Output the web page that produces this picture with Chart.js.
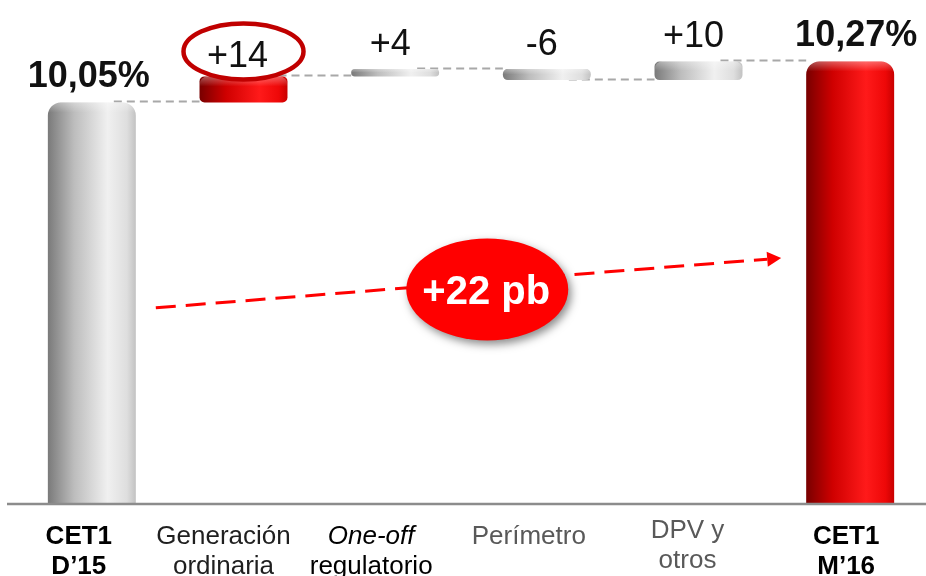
<!DOCTYPE html>
<html>
<head>
<meta charset="utf-8">
<script src="https://cdn.jsdelivr.net/npm/chart.js@4.4.1/dist/chart.umd.min.js"></script>
<style>
  html, body { margin: 0; padding: 0; background: #fff; }
  #wrap { width: 926px; height: 576px; }
</style>
</head>
<body>
<div id="wrap"><canvas id="c" width="926" height="576"></canvas></div>
<script>
// ---- data ----
const categories = [
  ['CET1', 'D’15'],
  ['Generación', 'ordinaria'],
  ['One-off', 'regulatorio'],
  ['Perímetro'],
  ['DPV y', 'otros'],
  ['CET1', 'M’16']
];
const openingCet1 = 10.05;            // % at start of period
const closingCet1 = 10.27;            // % at end of period
const movementsBp = [14, 4, -6, 10];  // basis points per driver
const axisMin = 7.9;                  // value axis range (%)
const axisMax = 10.6;

// ---- styling ----
const FONT = '"Liberation Sans", Arial, Helvetica, sans-serif';
const barTone = ['grey', 'red', 'grey', 'grey', 'grey', 'red'];
const highlightIndex = 1;
const labelStyle = [
  { weight: 'bold', color: '#000000', nudge: -13 },
  { weight: 'normal', color: '#1f1f1f', nudge: -20 },
  { weight: 'normal', color: '#000000', nudge: -24, italicFirst: true },
  { weight: 'normal', color: '#595959', nudge: -18 },
  { weight: 'normal', color: '#595959', nudge: -11, lift: 6 },
  { weight: 'bold', color: '#000000', nudge: -4 }
];

// ---- waterfall ranges built from the values above ----
const ranges = [[axisMin, openingCet1]];
let level = openingCet1;
movementsBp.forEach(bp => {
  const next = +(level + bp / 100).toFixed(4);
  ranges.push([level, next]);
  level = next;
});
ranges.push([axisMin, closingCet1]);
const totalBp = movementsBp.reduce((a, b) => a + b, 0);

const last = ranges.length - 1;
const fmtPct = v => v.toFixed(2).replace('.', ',') + '%';
const fmtBp = v => (v > 0 ? '+' : '') + v;
const valueLabels = ranges.map((r, i) =>
  (i === 0 || i === last) ? fmtPct(r[1]) : fmtBp(movementsBp[i - 1]));

const BAR_FRACTION = 0.58;

function cylinder(ctx, x, w, tone) {
  const g = ctx.createLinearGradient(x - w / 2, 0, x + w / 2, 0);
  if (tone === 'red') {
    g.addColorStop(0, '#780000');
    g.addColorStop(0.3, '#cf0000');
    g.addColorStop(0.68, '#ff1a1a');
    g.addColorStop(0.9, '#ee0808');
    g.addColorStop(1, '#c80000');
  } else {
    g.addColorStop(0, '#7a7a7a');
    g.addColorStop(0.3, '#bdbdbd');
    g.addColorStop(0.68, '#f0f0f0');
    g.addColorStop(0.9, '#dedede');
    g.addColorStop(1, '#c2c2c2');
  }
  return g;
}

function barGeom(chart, i) {
  const el = chart.getDatasetMeta(0).data[i];
  const top = Math.min(el.y, el.base);
  const bottom = Math.max(el.y, el.base);
  return { x: el.x, w: el.width, top, bottom, left: el.x - el.width / 2, right: el.x + el.width / 2 };
}

const decor = {
  id: 'decor',
  beforeDatasetsDraw(chart) {
    const ctx = chart.ctx;
    const y = chart.scales.y;
    ctx.save();
    ctx.strokeStyle = '#a8a8a8';
    ctx.lineWidth = 2;
    ctx.setLineDash([8, 5]);
    for (let i = 0; i < last; i++) {
      const a = barGeom(chart, i), b = barGeom(chart, i + 1);
      const py = Math.round(y.getPixelForValue(ranges[i][1])) - 0.5;
      ctx.beginPath();
      ctx.moveTo(a.x + 22, py);
      ctx.lineTo(b.left, py);
      ctx.stroke();
    }
    ctx.restore();
  },
  afterDatasetsDraw(chart) {
    const ctx = chart.ctx;
    const area = chart.chartArea;
    ctx.save();

    // soft highlight on the rounded tops of the cylinders
    for (let i = 0; i <= last; i++) {
      const g = barGeom(chart, i);
      const h = Math.min(10, (g.bottom - g.top) / 2);
      const grad = ctx.createLinearGradient(0, g.top, 0, g.top + h);
      grad.addColorStop(0, 'rgba(255,255,255,0.35)');
      grad.addColorStop(1, 'rgba(255,255,255,0)');
      ctx.fillStyle = grad;
      ctx.beginPath();
      ctx.roundRect(g.left, g.top, g.w, h, [Math.min(8, h), Math.min(8, h), 0, 0]);
      ctx.fill();
    }

    // value labels
    ctx.textAlign = 'center';
    ctx.textBaseline = 'alphabetic';
    for (let i = 0; i <= last; i++) {
      const g = barGeom(chart, i);
      const isTotal = (i === 0 || i === last);
      if (i === highlightIndex) {
        const cy = g.top - 25;
        ctx.beginPath();
        ctx.ellipse(g.x, cy, 60, 28, 0, 0, Math.PI * 2);
        ctx.fillStyle = '#ffffff';
        ctx.fill();
        ctx.lineWidth = 4.5;
        ctx.strokeStyle = '#c00000';
        ctx.stroke();
        ctx.fillStyle = '#111111';
        ctx.font = `36px ${FONT}`;
        ctx.fillText(valueLabels[i], g.x - 6, cy + 16);
        continue;
      }
      ctx.fillStyle = '#111111';
      ctx.font = `${isTotal ? 'bold ' : ''}36px ${FONT}`;
      ctx.fillText(valueLabels[i], g.x + (i === 0 ? -3 : i === last ? 6 : -5), g.top - (isTotal ? 15 : 14));
    }

    // dashed trend arrow from the opening bar to the closing bar
    const b0 = barGeom(chart, 0), bN = barGeom(chart, last);
    const sx = b0.right + 20, sy = area.top + area.height * 0.612;
    const tx = bN.left - 25, ty = area.top + area.height * 0.513;
    const ang = Math.atan2(ty - sy, tx - sx);
    const headLen = 14, headHalf = 7.5;
    const bx = tx - headLen * Math.cos(ang), by = ty - headLen * Math.sin(ang);
    ctx.strokeStyle = '#ff0000';
    ctx.lineWidth = 3;
    ctx.setLineDash([20, 10]);
    ctx.beginPath();
    ctx.moveTo(sx, sy);
    ctx.lineTo(bx, by);
    ctx.stroke();
    ctx.setLineDash([]);
    ctx.fillStyle = '#ff0000';
    ctx.beginPath();
    ctx.moveTo(tx, ty);
    ctx.lineTo(bx + headHalf * Math.sin(ang), by - headHalf * Math.cos(ang));
    ctx.lineTo(bx - headHalf * Math.sin(ang), by + headHalf * Math.cos(ang));
    ctx.closePath();
    ctx.fill();

    // total change bubble
    const t = 0.53;
    const cx = sx + (tx - sx) * t, cy = sy + (ty - sy) * t + 8;
    ctx.save();
    ctx.shadowColor = 'rgba(0,0,0,0.45)';
    ctx.shadowBlur = 8;
    ctx.shadowOffsetX = 3;
    ctx.shadowOffsetY = 4;
    ctx.fillStyle = '#ff0000';
    ctx.beginPath();
    ctx.ellipse(cx, cy, 81, 51, 0, 0, Math.PI * 2);
    ctx.fill();
    ctx.restore();
    ctx.fillStyle = '#ffffff';
    ctx.font = `bold 40px ${FONT}`;
    ctx.textAlign = 'center';
    ctx.fillText(`+${totalBp} pb`, cx - 1, cy + 15);

    ctx.restore();
  },
  afterDraw(chart) {
    const ctx = chart.ctx;
    const area = chart.chartArea;
    ctx.save();
    // base line
    ctx.strokeStyle = '#8c8c8c';
    ctx.lineWidth = 2.5;
    ctx.beginPath();
    ctx.moveTo(7, area.bottom + 1);
    ctx.lineTo(chart.width, area.bottom + 1);
    ctx.stroke();

    // category labels
    ctx.textAlign = 'center';
    ctx.textBaseline = 'alphabetic';
    categories.forEach((lines, i) => {
      const st = labelStyle[i];
      const x = chart.scales.x.getPixelForValue(i) + st.nudge;
      const lift = st.lift || 0;
      lines.forEach((txt, k) => {
        const italic = st.italicFirst && k === 0 ? 'italic ' : '';
        ctx.font = `${italic}${st.weight === 'bold' ? 'bold ' : ''}26px ${FONT}`;
        ctx.fillStyle = st.color;
        ctx.fillText(txt, x, area.bottom + 41 + k * 30 - lift);
      });
    });
    ctx.restore();
  }
};

new Chart(document.getElementById('c'), {
  type: 'bar',
  data: {
    labels: categories.map(l => l.join(' ')),
    datasets: [{
      data: ranges,
      backgroundColor: (c) => {
        const chart = c.chart;
        const xs = chart.scales && chart.scales.x;
        const tone = barTone[c.dataIndex];
        if (!xs || !chart.chartArea) return tone === 'red' ? '#e00000' : '#cccccc';
        const x = xs.getPixelForValue(c.dataIndex);
        const w = xs.width / categories.length * BAR_FRACTION;
        return cylinder(chart.ctx, x, w, tone);
      },
      borderWidth: 0,
      borderSkipped: (c) => (c.dataIndex === 0 || c.dataIndex === last) ? 'start' : false,
      borderRadius: (c) => (c.dataIndex === 0 || c.dataIndex === last)
        ? { topLeft: 13, topRight: 13, bottomLeft: 0, bottomRight: 0 }
        : 5,
      barPercentage: BAR_FRACTION,
      categoryPercentage: 1
    }]
  },
  options: {
    responsive: false,
    animation: false,
    layout: { padding: { left: 16, right: 0, top: 0, bottom: 73 } },
    plugins: { legend: { display: false }, tooltip: { enabled: false } },
    scales: {
      x: { display: false },
      y: { display: false, min: axisMin, max: axisMax }
    }
  },
  plugins: [decor]
});
</script>
</body>
</html>
